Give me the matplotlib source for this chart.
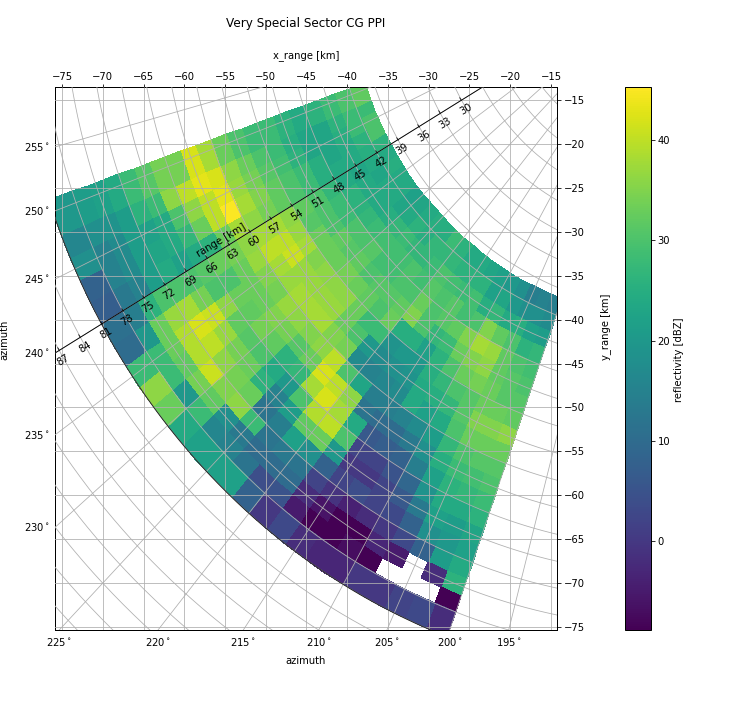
import numpy as np
import matplotlib
matplotlib.use("Agg")
import matplotlib.pyplot as plt
from matplotlib.markers import MarkerStyle, TICKUP
from matplotlib.transforms import Affine2D

nan = float("nan")
azimuth_edges = [200, 202, 204, 206, 208, 210, 212, 214, 216, 218, 220, 222, 224,
                 226, 228, 230, 232, 234, 236, 238, 240, 242, 244, 246, 248, 251]
range_edges = [40, 42, 44, 46, 48, 50, 52, 54, 56, 58, 60, 62, 64, 66, 68, 70, 72, 74, 76, 78, 81]
reflectivity = [
    [14,17,21,27,29,30,31,32,36,33,31,30,28,26,23,22,24,26,-9,-2],
    [15,18,22,26,30,31,31,33,35,33,31,29,27,24,21,20,21,-2,nan,3],
    [14,18,25,30,32,32,33,33,35,33,30,28,26,24,22,18,8,nan,nan,2],
    [18,20,24,32,37,36,34,31,31,30,27,25,22,19,13,8,3,-5,nan,0],
    [20,23,27,35,38,35,33,30,27,24,21,18,14,9,6,3,0,-3,-9,0],
    [22,22,25,30,35,33,30,27,25,22,17,13,8,5,2,2,-2,-9,-7,-3],
    [23,26,29,29,32,28,26,25,24,24,15,10,7,2,0,4,-4,-9,-9,-3],
    [24,26,28,31,31,27,22,20,19,17,14,10,6,2,0,2,-1,-6,-9,-2],
    [24,26,29,30,30,30,25,20,18,16,14,12,24,30,20,8,2,-2,-5,3],
    [26,27,30,31,33,35,25,19,17,15,23,36,38,40,33,18,12,10,5,0],
    [28,27,28,29,30,32,33,28,20,17,30,40,42,39,32,22,13,10,4,8],
    [25,27,27,30,30,31,30,28,30,34,40,42,38,30,21,14,12,10,12,22],
    [25,25,27,29,29,31,32,33,33,35,36,33,27,20,15,12,28,13,15,22],
    [24,26,28,29,29,30,33,36,37,38,35,31,26,24,26,33,36,18,16,22],
    [23,24,27,29,31,32,34,36,37,38,36,34,32,30,33,34,35,32,28,24],
    [22,23,25,28,30,31,33,36,37,38,37,35,34,31,34,36,41,34,20,33],
    [24,24,24,27,30,32,33,35,37,37,34,33,32,32,37,40,39,32,28,36],
    [24,24,24,26,28,30,33,38,41,38,35,33,33,36,41,42,39,33,28,28],
    [25,23,24,26,28,30,31,37,40,40,37,33,30,30,34,38,37,33,20,10],
    [24,24,23,24,27,30,32,36,38,38,36,34,33,31,30,30,30,26,14,11],
    [26,25,24,24,25,28,30,32,34,36,38,33,26,24,22,24,21,15,13,7],
    [30,26,24,23,25,28,30,32,35,38,45,40,33,27,24,23,21,17,15,8],
    [30,28,25,23,23,26,29,31,34,37,43,40,36,30,24,22,21,17,15,18],
    [28,28,26,23,23,25,28,30,33,36,42,43,40,36,28,26,21,19,18,16],
    [32,30,28,26,24,26,28,28,30,33,38,42,34,34,31,28,24,22,21,20],
]
x_ticks = [-75, -70, -65, -60, -55, -50, -45, -40, -35, -30, -25, -20, -15]
y_ticks = [-15, -20, -25, -30, -35, -40, -45, -50, -55, -60, -65, -70, -75]
bottom_azimuths = [225, 220, 215, 210, 205, 200, 195]
left_azimuths = [255, 250, 245, 240, 235, 230]
range_labels = list(range(30, 88, 3))
cbar_ticks = [0, 10, 20, 30, 40]

W, H = 756, 720
GRID = "#b0b0b0"
fig = plt.figure(figsize=(W / 72, H / 72), dpi=72)
ax = fig.add_axes([55 / W, 1 - 630 / H, 502 / W, 543 / H])
xmin, xmax, ymin, ymax = -75.86, -14.26, -75.34, -13.5


def polar(r, az):
    t = np.deg2rad(az)
    return r * np.sin(t), r * np.cos(t)


AZ, R = np.meshgrid(azimuth_edges, range_edges, indexing="ij")
X, Y = polar(R, AZ)
values = np.ma.masked_invalid(np.array(reflectivity, dtype=float))
pm = ax.pcolormesh(X, Y, values, cmap="viridis", vmin=-8.88, vmax=45.3,
                   shading="flat", linewidth=0, antialiased=False, zorder=1)

# Cartesian and polar grid
ax.set_xlim(xmin, xmax)
ax.set_ylim(ymin, ymax)
ax.set_xticks(x_ticks)
ax.set_yticks(y_ticks)
ax.xaxis.tick_top()
ax.yaxis.tick_right()
ax.grid(True, color=GRID, linewidth=0.8, zorder=3)
ax.set_axisbelow(False)
ax.tick_params(labelsize=10, length=3.5, width=0.8)
ax.tick_params(axis="x", pad=1.5)

theta = np.linspace(180, 270, 181)
for r in range(3, 121, 3):
    px, py = polar(r, theta)
    ax.plot(px, py, color=GRID, lw=0.8, zorder=3)
for az in range(180, 275, 5):
    px, py = polar(np.array([0.0, 130.0]), az)
    ax.plot(px, py, color=GRID, lw=0.8, zorder=3)

# outer edge of the sweep
px, py = polar(range_edges[-1], np.linspace(azimuth_edges[0], azimuth_edges[-1], 200))
ax.plot(px, py, color="#222222", lw=0.9, zorder=4)

# floating range axis at azimuth 240
px, py = polar(np.array([15.0, 110.0]), 240)
ax.plot(px, py, color="black", lw=0.9, zorder=5)
tick_marker = MarkerStyle(TICKUP, transform=Affine2D().rotate_deg(32))
for r in range_labels:
    tx, ty = polar(r, 240)
    ax.plot([tx], [ty], marker=tick_marker, ms=4, mew=0.8, color="black", zorder=5)
    ax.annotate(str(r), xy=(tx, ty), xytext=(4.5, -9.5), textcoords="offset points",
                rotation=31, ha="center", va="center", rotation_mode="anchor",
                fontsize=10, color="black", zorder=6)
fig.text(221 / W, 1 - 240 / H, "range [km]", rotation=31, ha="center", va="center",
         rotation_mode="anchor", fontsize=10, zorder=6)

# azimuth labels on the bottom and left edges
for az in bottom_azimuths:
    bx = ymin * np.tan(np.deg2rad(az))
    ax.annotate(rf"${az}^\circ$", xy=(bx, 0), xycoords=("data", "axes fraction"),
                xytext=(0, -6), textcoords="offset points", ha="center", va="top", fontsize=10)
for az in left_azimuths:
    ly = xmin / np.tan(np.deg2rad(az))
    ax.annotate(rf"${az}^\circ$", xy=(0, ly), xycoords=("axes fraction", "data"),
                xytext=(-5, 0), textcoords="offset points", ha="right", va="center", fontsize=10)

for s in ax.spines.values():
    s.set_linewidth(1.0)

fig.text(306 / W, 1 - 23 / H, "Very Special Sector CG PPI", ha="center", va="center", fontsize=12)
fig.text(306 / W, 1 - 56 / H, "x_range [km]", ha="center", va="center", fontsize=10)
fig.text(306 / W, 1 - 661 / H, "azimuth", ha="center", va="center", fontsize=10)
fig.text(4 / W, 1 - 340 / H, "azimuth", rotation=90, ha="center", va="center", fontsize=10)
fig.text(606 / W, 1 - 327 / H, "y_range [km]", rotation=90, ha="center", va="center", fontsize=10)

cax = fig.add_axes([624.5 / W, 1 - 630 / H, 26 / W, 543 / H])
cb = fig.colorbar(pm, cax=cax)
cb.set_ticks(cbar_ticks)
cb.ax.tick_params(labelsize=10, length=3.5, width=0.8)
cb.outline.set_linewidth(1.0)
fig.text(679 / W, 1 - 360 / H, "reflectivity [dBZ]", rotation=90, ha="center", va="center", fontsize=10)

fig.savefig("out.png", dpi=72)
